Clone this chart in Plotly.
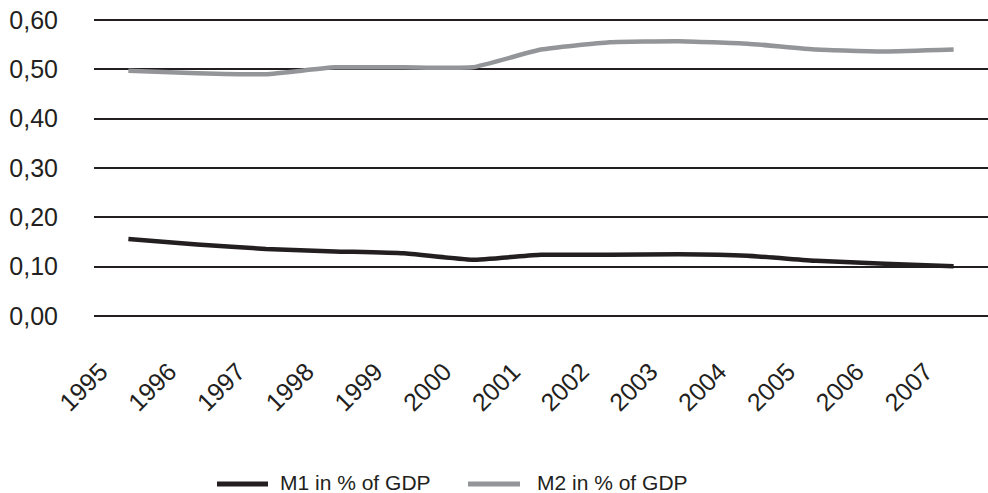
import plotly.graph_objects as go

years = ["1995", "1996", "1997", "1998", "1999", "2000", "2001",
         "2002", "2003", "2004", "2005", "2006", "2007"]
m1 = [0.156, 0.145, 0.136, 0.131, 0.127, 0.114, 0.124,
      0.124, 0.125, 0.122, 0.112, 0.106, 0.101]
m2 = [0.497, 0.492, 0.490, 0.504, 0.504, 0.504, 0.540,
      0.555, 0.557, 0.552, 0.540, 0.536, 0.540]
series_names = ["M1 in % of GDP", "M2 in % of GDP"]
series_colors = ["#231f20", "#939598"]
y_ticks = [0.0, 0.1, 0.2, 0.3, 0.4, 0.5, 0.6]

W, H = 988, 493
ML, MR, MT, MB = 94, 0, 18, 175
PW, PH = W - ML - MR, H - MT - MB


def px_x(x):
    return (x - ML) / PW


def px_y(y):
    return (H - MB - y) / PH


fig = go.Figure()
for name, vals, col in zip(series_names, [m1, m2], series_colors):
    fig.add_trace(go.Scatter(x=years, y=vals, mode="lines", name=name, showlegend=False,
                             line=dict(color=col, width=4.5, shape="spline", smoothing=0.4)))

# manual legend (positions in pixels)
legend_pos = [(217, 268, 279), (468, 520, 536)]
shapes, annotations = [], []
for (x0, x1, xt), name, col in zip(legend_pos, series_names, series_colors):
    shapes.append(dict(type="line", xref="paper", yref="paper",
                       x0=px_x(x0), x1=px_x(x1), y0=px_y(484), y1=px_y(484),
                       line=dict(color=col, width=5)))
    annotations.append(dict(xref="paper", yref="paper", x=px_x(xt), y=px_y(482),
                            xanchor="left", yanchor="middle", showarrow=False,
                            borderpad=0,
                            text=name, font=dict(size=21, color="#231f20")))

fig.update_layout(
    width=W, height=H,
    margin=dict(l=ML, r=MR, t=MT, b=MB, autoexpand=False),
    paper_bgcolor="white", plot_bgcolor="white",
    separators=",.",
    font=dict(family="Liberation Sans, Arial, sans-serif", color="#231f20"),
    showlegend=False,
    shapes=shapes, annotations=annotations,
    xaxis=dict(type="category", tickangle=-45, showgrid=False, showline=False,
               zeroline=False, ticks="", tickfont=dict(size=25), range=[-0.5, 12.5],
               automargin=False, ticklabelstandoff=33, ticklabelshift=-28),
    yaxis=dict(range=[-0.004, 0.604], tickvals=y_ticks, tickformat=".2f", showgrid=True,
               gridcolor="#231f20", gridwidth=1.6, zeroline=False, showline=False,
               ticks="", tickfont=dict(size=25), ticklabelstandoff=35, automargin=False),
)

fig.write_html("out.html", config={"displayModeBar": False},
               post_script="document.body.style.margin='0';")
